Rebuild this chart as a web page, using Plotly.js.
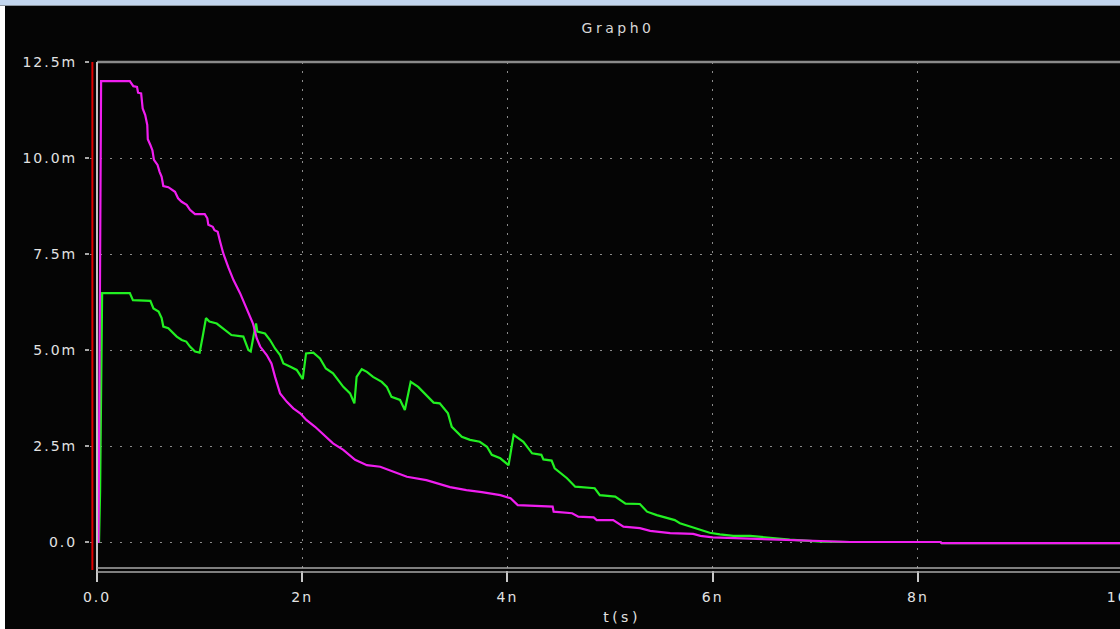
<!DOCTYPE html>
<html>
<head>
<meta charset="utf-8">
<script src="https://cdn.plot.ly/plotly-3.0.1.min.js"></script>
<style>
  html, body { margin: 0; padding: 0; width: 1120px; height: 629px; overflow: hidden; background: #ffffff; }
  #topstrip { position: absolute; left: 0; top: 0; width: 1120px; height: 5px; background: #c3d6ee; border-bottom: 1px solid #8d96a0; }
  #chart { position: absolute; left: 5px; top: 6px; width: 1159px; height: 623px; }
  #chart text { letter-spacing: 2px; }
  #chart .gtitle, #chart .xtitle { letter-spacing: 3.5px; }
</style>
</head>
<body>
<div id="topstrip"></div>
<div id="chart"></div>
<script>
// ---- data (time in ns, values in "m" units) ----
const timeMagenta = [0, 0.015, 0.04, 0.32, 0.354, 0.39, 0.40, 0.43, 0.445, 0.47, 0.49, 0.495, 0.52, 0.54, 0.555, 0.59, 0.61, 0.63, 0.646, 0.695, 0.76, 0.79, 0.825, 0.874, 0.906, 0.955, 1.05, 1.075, 1.085, 1.128, 1.145, 1.176, 1.2, 1.23, 1.28, 1.33, 1.394, 1.46, 1.52, 1.557, 1.59, 1.654, 1.70, 1.735, 1.784, 1.85, 1.913, 1.98, 2.04, 2.125, 2.206, 2.30, 2.40, 2.515, 2.63, 2.76, 2.89, 3.02, 3.21, 3.44, 3.6, 3.75, 3.93, 4.03, 4.1, 4.285, 4.44, 4.45, 4.63, 4.69, 4.84, 4.87, 5.03, 5.13, 5.29, 5.39, 5.585, 5.81, 5.88, 6.0, 6.2, 6.53, 6.75, 7.05, 7.34, 8.22, 8.23, 10.3];
const valueMagenta = [0, 0, 12.0, 12.0, 11.87, 11.85, 11.7, 11.68, 11.29, 11.12, 10.86, 10.49, 10.34, 10.2, 9.95, 9.82, 9.64, 9.51, 9.27, 9.24, 9.12, 8.95, 8.86, 8.78, 8.65, 8.54, 8.54, 8.43, 8.26, 8.21, 8.12, 8.08, 7.82, 7.52, 7.15, 6.82, 6.48, 6.04, 5.69, 5.30, 5.09, 4.87, 4.65, 4.30, 3.87, 3.65, 3.48, 3.35, 3.18, 3.0, 2.79, 2.57, 2.40, 2.14, 2.0, 1.96, 1.83, 1.70, 1.61, 1.43, 1.35, 1.30, 1.22, 1.14, 0.96, 0.94, 0.92, 0.79, 0.75, 0.66, 0.64, 0.57, 0.57, 0.40, 0.36, 0.29, 0.23, 0.21, 0.16, 0.12, 0.10, 0.08, 0.05, 0.01, 0.0, 0.0, -0.03, -0.03];

const timeGreen = [0, 0.02, 0.03, 0.045, 0.05, 0.32, 0.35, 0.52, 0.55, 0.6, 0.63, 0.646, 0.695, 0.777, 0.826, 0.87, 0.906, 0.955, 1.0, 1.03, 1.062, 1.095, 1.167, 1.31, 1.426, 1.475, 1.498, 1.53, 1.55, 1.562, 1.637, 1.686, 1.735, 1.784, 1.816, 1.88, 1.946, 2.005, 2.037, 2.108, 2.173, 2.23, 2.30, 2.40, 2.466, 2.508, 2.53, 2.58, 2.63, 2.69, 2.775, 2.824, 2.87, 2.953, 3.0, 3.02, 3.057, 3.13, 3.21, 3.28, 3.34, 3.42, 3.457, 3.555, 3.635, 3.73, 3.80, 3.847, 3.93, 4.01, 4.03, 4.06, 4.155, 4.24, 4.33, 4.35, 4.43, 4.46, 4.58, 4.66, 4.85, 4.90, 5.05, 5.15, 5.29, 5.36, 5.455, 5.55, 5.63, 5.68, 5.78, 5.87, 5.97, 6.07, 6.2, 6.365, 6.53, 6.62, 6.75, 7.05, 7.34, 8.22, 8.23, 10.3];
const valueGreen = [0, 0, 1.3, 4.6, 6.48, 6.48, 6.30, 6.28, 6.08, 6.0, 5.83, 5.61, 5.57, 5.35, 5.26, 5.22, 5.09, 4.96, 4.93, 5.35, 5.83, 5.74, 5.69, 5.39, 5.35, 5.0, 4.96, 5.43, 5.69, 5.48, 5.43, 5.26, 5.04, 4.87, 4.65, 4.57, 4.48, 4.24, 4.91, 4.93, 4.78, 4.52, 4.39, 4.04, 3.87, 3.61, 4.30, 4.50, 4.43, 4.30, 4.17, 4.04, 3.78, 3.70, 3.44, 3.70, 4.17, 4.04, 3.83, 3.63, 3.61, 3.35, 3.0, 2.74, 2.66, 2.61, 2.48, 2.27, 2.18, 2.0, 2.31, 2.79, 2.61, 2.31, 2.27, 2.15, 2.12, 1.92, 1.66, 1.44, 1.40, 1.22, 1.18, 1.0, 0.99, 0.79, 0.70, 0.62, 0.57, 0.49, 0.40, 0.33, 0.24, 0.20, 0.16, 0.16, 0.12, 0.10, 0.06, 0.01, 0.0, 0.0, -0.03, -0.03];

const timeRed = [-0.045, -0.045];
const valueRed = [-5, 50];

const xTickVals = [0, 2, 4, 6, 8, 10];
const xTickText = ['0.0', '2n', '4n', '6n', '8n', '10n'];
const yTickVals = [0, 2.5, 5, 7.5, 10, 12.5];
const yTickText = ['0.0', '2.5m', '5.0m', '7.5m', '10.0m', '12.5m'];

const xRange = [-0.0682, 10.3];
const yRange = [-0.729, 12.5];

// ---- traces ----
const traces = [
  { x: timeRed, y: valueRed, type: 'scatter', mode: 'lines', name: 'red',
    line: { color: '#e00000', width: 2 }, hoverinfo: 'skip' },
  { x: timeGreen, y: valueGreen, type: 'scatter', mode: 'lines', name: 'green',
    line: { color: '#22f022', width: 2.2 } },
  { x: timeMagenta, y: valueMagenta, type: 'scatter', mode: 'lines', name: 'magenta',
    line: { color: '#f01ef0', width: 2.2 } }
];

const fontFam = 'DejaVu Sans, Verdana, sans-serif';
const tickFont = { family: fontFam, size: 14, color: '#e2e2e2' };
const px = 1 / 508;

const layout = {
  width: 1159, height: 623,
  margin: { l: 85, r: 10, t: 56, b: 59 },
  paper_bgcolor: '#050505',
  plot_bgcolor: '#050505',
  showlegend: false,
  title: { text: 'Graph0', font: { family: fontFam, size: 14, color: '#d8d8d8' },
           x: (618 - 90) / 1064, xanchor: 'center', xref: 'paper',
           y: 1 - 22 / 623, yanchor: 'middle', yref: 'container' },
  xaxis: {
    range: xRange, tickvals: xTickVals, ticktext: xTickText,
    showgrid: true, gridcolor: '#8c8c8c', griddash: '2px,7px', gridwidth: 1,
    zeroline: false, showline: false,
    ticks: 'outside', ticklen: 11, tickwidth: 2, tickcolor: '#c8c8c8',
    tickfont: tickFont, ticklabelstandoff: 3,
    title: { text: 't(s)', font: tickFont, standoff: 8 }
  },
  yaxis: {
    range: yRange, tickvals: yTickVals, ticktext: yTickText,
    showgrid: true, gridcolor: '#8c8c8c', griddash: '2px,8px', gridwidth: 1,
    zeroline: false, showline: false,
    ticks: 'outside', ticklen: 4, tickwidth: 2, tickcolor: '#a8a8a8',
    tickfont: tickFont, ticklabelstandoff: 5
  },
  shapes: [
    // top border
    { type: 'line', xref: 'x', yref: 'paper', x0: 0, x1: 10.3, y0: 1, y1: 1,
      line: { color: '#8a8a8a', width: 2.5 } },
    // left axis
    { type: 'line', xref: 'x', yref: 'paper', x0: 0, x1: 0, y0: -2 * px, y1: 1,
      line: { color: '#c4c4c4', width: 2 } },
    // bottom double axis line
    { type: 'line', xref: 'x', yref: 'paper', x0: 0, x1: 10.3, y0: 2 * px, y1: 2 * px,
      line: { color: '#a8a8a8', width: 1.5 } },
    { type: 'line', xref: 'x', yref: 'paper', x0: 0, x1: 10.3, y0: -2 * px, y1: -2 * px,
      line: { color: '#a8a8a8', width: 1.5 } }
  ]
};

Plotly.newPlot('chart', traces, layout, { displayModeBar: false, staticPlot: true });
</script>
</body>
</html>
